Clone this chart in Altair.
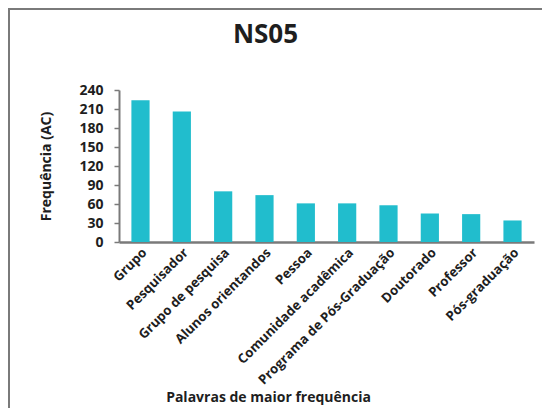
import altair as alt
import pandas as pd

categories = ["Grupo", "Pesquisador", "Grupo de pesquisa", "Alunos orientandos", "Pessoa",
              "Comunidade acadêmica", "Programa de Pós-Graduação", "Doutorado", "Professor",
              "Pós-graduação"]
values = [224, 206, 80, 74, 61, 61, 58, 45, 44, 34]
y_ticks = [0, 30, 60, 90, 120, 150, 180, 210, 240]

df = pd.DataFrame({"cat": categories, "val": values})

FONT = "Open Sans"
TXT = "#1e1e1e"
GREY = "#7a7a7a"

bars = alt.Chart(df).mark_bar(color="#21BDCD").encode(
    x=alt.X("cat:N", sort=categories, scale=alt.Scale(paddingInner=0.56, paddingOuter=0.3),
            axis=alt.Axis(title="Palavras de maior frequência", labelAngle=-45,
                          labelFont=FONT, labelFontSize=13.2, labelFontWeight="bold",
                          labelColor=TXT, ticks=False, labelPadding=4, labelLimit=400,
                          domainColor=GREY, domainWidth=2.5,
                          titleFont=FONT, titleFontSize=14, titleFontWeight="bold",
                          titleColor=TXT, titleX=149, titleY=159, titleAnchor="middle",
                          titleBaseline="alphabetic")),
    y=alt.Y("val:Q", scale=alt.Scale(domain=[0, 240], nice=False),
            axis=alt.Axis(title="Frequência (AC)", values=y_ticks, grid=False,
                          labelFont=FONT, labelFontSize=14, labelFontWeight="bold",
                          labelColor=TXT, tickColor=GREY, tickSize=5, tickWidth=1.5,
                          labelPadding=11, domainColor=GREY, domainWidth=2,
                          titleFont=FONT, titleFontSize=14, titleFontWeight="bold",
                          titleColor=TXT, titlePadding=25)),
)

# frame lines of the surrounding cell (decorative)
vline = alt.Chart(df).mark_rule(color=GREY, strokeWidth=2).encode(
    x=alt.value(-110), y=alt.value(-82), y2=alt.value(330))
hline = alt.Chart(df).mark_rule(color=GREY, strokeWidth=2).encode(
    x=alt.value(-111), x2=alt.value(430), y=alt.value(-81))

chart = alt.layer(bars, vline, hline).properties(
    width=415, height=152,
    title=alt.TitleParams("NS05", font=FONT, fontSize=26, fontWeight="bold", color=TXT,
                          anchor="middle", dx=-61, offset=0, dy=62, baseline="alphabetic"),
    autosize=alt.AutoSizeParams(type="none"),
    padding={"left": 111, "top": 82, "right": 8, "bottom": 166},
).configure_view(stroke=None)

chart.save("out.html", embed_options={"renderer": "svg", "actions": False})
